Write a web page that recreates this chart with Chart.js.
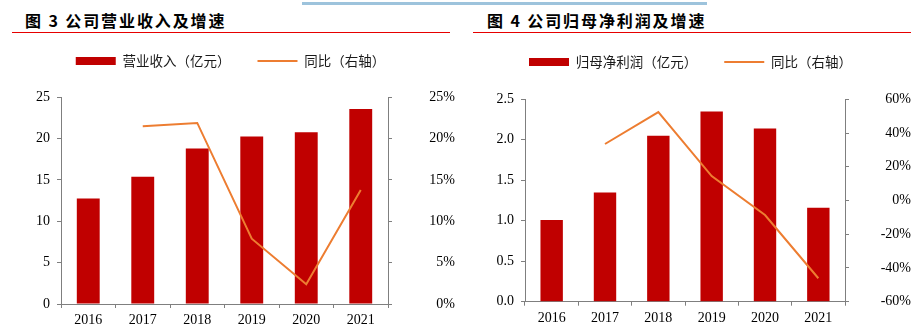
<!DOCTYPE html>
<html>
<head>
<meta charset="utf-8">
<script src="https://cdn.jsdelivr.net/npm/chart.js@4.4.0/dist/chart.umd.min.js"></script>
<style>
  body { margin: 0; width: 911px; height: 336px; position: relative; overflow: hidden; background: #fff; }
  .strip { position: absolute; left: 302px; top: 2px; width: 405px; height: 3px; background: #9dc3dc; }
  .title { position: absolute; top: 12px; font: bold 16px/16px "Noto Sans CJK SC"; letter-spacing: 1.9px; color: #000; white-space: nowrap; }
  .rule { position: absolute; top: 32px; height: 1px; background: #e60000; }
  .box { position: absolute; top: 0; height: 336px; }
</style>
</head>
<body>
<div class="strip"></div>
<div class="title" style="left:25px">图 3 公司营业收入及增速</div>
<div class="rule" style="left:12px;width:438px"></div>
<div class="title" style="left:487px">图 4 公司归母净利润及增速</div>
<div class="rule" style="left:473px;width:438px"></div>

<div class="box" style="left:0;width:455px"><canvas id="revChart"></canvas></div>
<div class="box" style="left:455px;width:456px"><canvas id="profitChart"></canvas></div>

<script>
// 年份
const years = ['2016', '2017', '2018', '2019', '2020', '2021'];

// 营业收入（亿元）及同比
const revenue = [12.75, 15.4, 18.8, 20.25, 20.77, 23.6];
const revenueYoy = [null, 0.215, 0.219, 0.079, 0.024, 0.138];

// 归母净利润（亿元）及同比
const profit = [1.01, 1.35, 2.05, 2.35, 2.14, 1.16];
const profitYoy = [null, 0.335, 0.524, 0.145, -0.086, -0.461];

// 坐标轴刻度
const revTicks = [0, 5, 10, 15, 20, 25];
const revPctTicks = [0, 0.05, 0.10, 0.15, 0.20, 0.25];
const profitTicks = [0, 0.5, 1.0, 1.5, 2.0, 2.5];
const profitPctTicks = [-0.6, -0.4, -0.2, 0, 0.2, 0.4, 0.6];

const barRed = '#c00000';
const lineOrange = '#ed7d31';
const axisGray = '#7f7f7f';
const tickFont = { family: 'Liberation Serif', size: 14 };

function pct(v) {
    return Math.round(v * 100) + '%';
}

function makeChart(id, cfg) {
    // legend height is forced so the plot area starts where the reference starts
    const legendHeight = {
        id: 'legendHeight',
        beforeUpdate(chart) {
            if (chart.legend && !chart.legend._patched) {
                const fit = chart.legend.fit;
                chart.legend.fit = function () {
                    fit.call(this);
                    this.height = cfg.legendH;
                };
                chart.legend._patched = true;
            }
        }
    };

    const yAxis = (ticksArr, fmt, width, pos) => ({
        position: pos,
        min: ticksArr[0],
        max: ticksArr[ticksArr.length - 1],
        afterBuildTicks: s => { s.ticks = ticksArr.map(v => ({ value: v })); },
        afterFit: s => { s.width = width; },
        grid: { drawOnChartArea: false, tickLength: 4, color: axisGray },
        border: { color: axisGray },
        ticks: {
            font: tickFont, color: '#000', padding: 7,
            crossAlign: pos === 'right' ? 'far' : 'near',
            callback: fmt
        }
    });

    return new Chart(document.getElementById(id), {
        type: 'bar',
        data: {
            labels: years,
            datasets: [{
                type: 'bar',
                label: cfg.barLabel,
                data: cfg.bars,
                backgroundColor: barRed,
                barPercentage: 0.42,
                categoryPercentage: 1,
                pointStyle: 'rect',
                yAxisID: 'y',
                order: 1
            }, {
                type: 'line',
                label: '同比（右轴）',
                data: cfg.yoy,
                borderColor: lineOrange,
                backgroundColor: lineOrange,
                borderWidth: 2,
                pointRadius: 0,
                pointStyle: 'line',
                tension: 0,
                yAxisID: 'y1',
                order: 0
            }]
        },
        options: {
            responsive: true,
            maintainAspectRatio: false,
            animation: false,
            layout: { padding: { left: cfg.padLeft, top: cfg.padTop, right: 0, bottom: 0 } },
            plugins: {
                legend: {
                    position: 'top',
                    labels: {
                        usePointStyle: true,
                        pointStyleWidth: 40,
                        boxHeight: 8,
                        padding: 27,
                        color: '#1a1a1a',
                        font: { family: 'Noto Sans CJK SC', size: 13.5 },
                        sort: (a, b) => a.datasetIndex - b.datasetIndex
                    }
                },
                tooltip: { enabled: false }
            },
            scales: {
                x: {
                    afterFit: s => { s.height = cfg.xAxisH; },
                    grid: { offset: true, drawOnChartArea: false, tickLength: 4, color: axisGray },
                    border: { color: axisGray },
                    ticks: { font: tickFont, color: '#000', padding: 4 }
                },
                y: yAxis(cfg.leftTicks, cfg.leftFmt, cfg.leftW, 'left'),
                y1: yAxis(cfg.rightTicks, pct, cfg.rightW, 'right')
            }
        },
        plugins: [legendHeight]
    });
}

makeChart('revChart', {
    barLabel: '营业收入（亿元）',
    bars: revenue,
    yoy: revenueYoy,
    leftTicks: revTicks,
    rightTicks: revPctTicks,
    leftFmt: v => String(v),
    padLeft: 6, leftW: 55, rightW: 67,
    padTop: 27.2, legendH: 70.1,
    xAxisH: 32
});

makeChart('profitChart', {
    barLabel: '归母净利润（亿元）',
    bars: profit,
    yoy: profitYoy,
    leftTicks: profitTicks,
    rightTicks: profitPctTicks,
    leftFmt: v => v.toFixed(1),
    padLeft: 15, leftW: 55, rightW: 66,
    padTop: 28.2, legendH: 71.1,
    xAxisH: 34.3
});
</script>
</body>
</html>
